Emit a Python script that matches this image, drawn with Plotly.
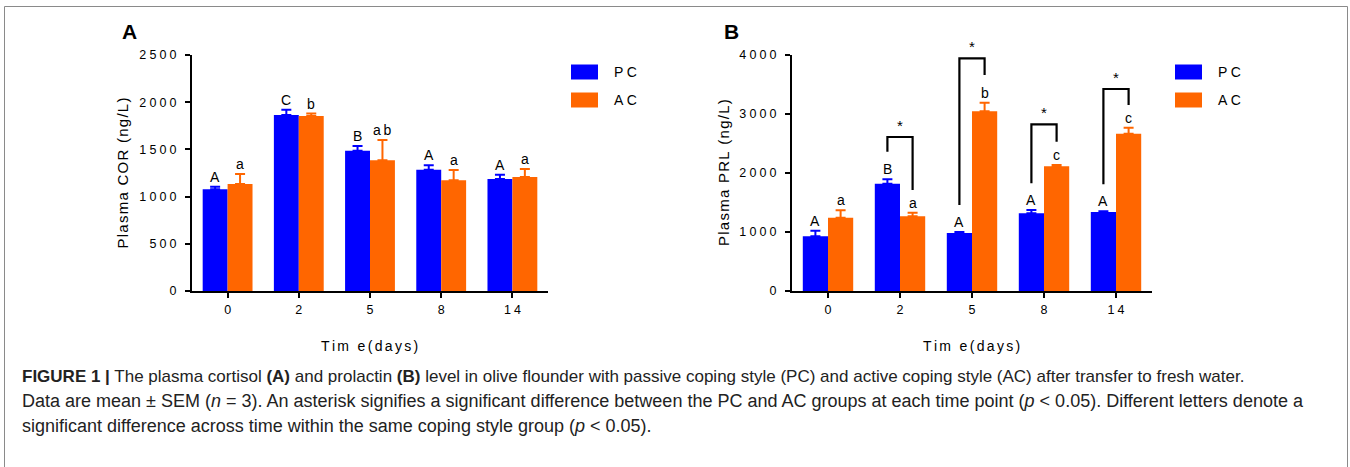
import plotly.graph_objects as go

# ---------------- data ----------------
days = ["0", "2", "5", "8", "14"]
cor_pc = [1077, 1864, 1486, 1285, 1186]
cor_pc_sem = [28, 57, 50, 46, 46]
cor_ac = [1133, 1853, 1384, 1172, 1208]
cor_ac_sem = [106, 26, 215, 110, 84]
prl_pc = [927, 1819, 983, 1316, 1339]
prl_pc_sem = [95, 74, 15, 57, 12]
prl_ac = [1243, 1265, 3045, 2113, 2666]
prl_ac_sem = [124, 63, 147, 22, 102]
cor_pc_letters = ["A", "C", "B", "A", "A"]
cor_ac_letters = ["a", "b", "ab", "a", "a"]
prl_pc_letters = ["A", "B", "A", "A", "A"]
prl_ac_letters = ["a", "a", "b", "c", "c"]
# significance brackets in panel B (category index, top, left foot, right foot)
sig_idx = [1, 2, 3, 4]
sig_top = [2610, 3943, 2825, 3424]
sig_left = [2361, 1458, 1825, 1808]
sig_right = [1712, 3661, 2531, 3153]
cor_ticks = [0, 500, 1000, 1500, 2000, 2500]
prl_ticks = [0, 1000, 2000, 3000, 4000]

BLUE = "#0000FF"
ORANGE = "#FF6600"
W, H = 1350, 467
FONT = "Liberation Sans, Arial, sans-serif"


def sp(s, gap="\u2009"):
    return gap.join(list(s))


def px(x):
    return x / W


def py(y):
    return 1 - y / H


xs = list(range(len(days)))
OFF = 0.175

fig = go.Figure()


def add_panel(pc, pcs, ac, acs, xa, ya):
    fig.add_trace(go.Bar(x=xs, y=pc, marker=dict(color=BLUE, line=dict(width=0)),
                         error_y=dict(type="data", symmetric=False, array=pcs,
                                      arrayminus=[0] * len(pcs), color=BLUE,
                                      thickness=2, width=5),
                         xaxis=xa, yaxis=ya, showlegend=False, name="PC"))
    fig.add_trace(go.Bar(x=xs, y=ac, marker=dict(color=ORANGE, line=dict(width=0)),
                         error_y=dict(type="data", symmetric=False, array=acs,
                                      arrayminus=[0] * len(acs), color=ORANGE,
                                      thickness=2, width=5),
                         xaxis=xa, yaxis=ya, showlegend=False, name="AC"))


add_panel(cor_pc, cor_pc_sem, cor_ac, cor_ac_sem, "x", "y")
add_panel(prl_pc, prl_pc_sem, prl_ac, prl_ac_sem, "x2", "y2")

# brackets
for i, t, l, r in zip(sig_idx, sig_top, sig_left, sig_right):
    fig.add_trace(go.Scatter(x=[i - OFF, i - OFF, i + OFF, i + OFF], y=[l, t, t, r],
                             mode="lines", line=dict(color="black", width=2.2),
                             xaxis="x2", yaxis="y2", showlegend=False, hoverinfo="skip"))

annotations = []


def letters(vals, sems, labs, off, xref, yref):
    for i, (v, s, lab) in enumerate(zip(vals, sems, labs)):
        annotations.append(dict(x=i + off, y=v + s, xref=xref, yref=yref, text=sp(lab),
                                showarrow=False, xanchor="center", yanchor="bottom", yshift=0,
                                font=dict(family=FONT, size=14, color="black")))


letters(cor_pc, cor_pc_sem, cor_pc_letters, -OFF, "x", "y")
letters(cor_ac, cor_ac_sem, cor_ac_letters, OFF, "x", "y")
letters(prl_pc, prl_pc_sem, prl_pc_letters, -OFF, "x2", "y2")
letters(prl_ac, prl_ac_sem, prl_ac_letters, OFF, "x2", "y2")

for i, t in zip(sig_idx, sig_top):
    annotations.append(dict(x=i, y=t, xref="x2", yref="y2", text="*", showarrow=False,
                            xanchor="center", yanchor="bottom", yshift=1,
                            font=dict(family=FONT, size=15, color="black")))


def paper_text(text, x, y, size, xanchor="center", yanchor="middle", angle=0, color="black"):
    annotations.append(dict(x=px(x), y=py(y), xref="paper", yref="paper", text=text,
                            showarrow=False, xanchor=xanchor, yanchor=yanchor,
                            textangle=angle, font=dict(family=FONT, size=size, color=color)))


# panel letters
paper_text("<b>A</b>", 129, 32, 21)
paper_text("<b>B</b>", 731, 32, 21)

# axis titles
paper_text(sp("Plasma COR (ng/L)", "\u200A"), 121.5, 173, 15, angle=-90)
paper_text(sp("Plasma PRL (ng/L)", "\u200A"), 723, 173, 15, angle=-90)
paper_text(sp("Tim e(days)", "\u2006"), 369, 346, 14)
paper_text(sp("Tim e(days)", "\u2006"), 971, 346, 14)

# custom legends
shapes = []
for lx in [571, 1175]:
    for lab, col, ly in [("PC", BLUE, 72), ("AC", ORANGE, 100)]:
        shapes.append(dict(type="rect", xref="paper", yref="paper",
                           x0=px(lx), x1=px(lx + 27), y0=py(ly + 7.5), y1=py(ly - 7.5),
                           fillcolor=col, line=dict(width=0)))
        paper_text(sp(lab, "\u2005"), lx + 41, ly, 14, xanchor="left")

# outer frame
shapes.append(dict(type="rect", xref="paper", yref="paper", x0=px(4.5), x1=px(1347.5),
                   y0=py(480), y1=py(6.5), line=dict(color="#8a8a8a", width=1)))

# caption
cap = [
    "<b>FIGURE 1 |</b> The plasma cortisol <b>(A)</b> and prolactin <b>(B)</b> level in olive flounder "
    "with passive coping style (PC) and active coping style (AC) after transfer to fresh water.",
    "Data are mean ± SEM (<i>n</i> = 3). An asterisk signifies a significant difference between the PC "
    "and AC groups at each time point (<i>p</i> &lt; 0.05). Different letters denote a",
    "significant difference across time within the same coping style group (<i>p</i> &lt; 0.05).",
]
cap_sizes = [17, 18, 18]
for k, (line, fs) in enumerate(zip(cap, cap_sizes)):
    paper_text(line, 20, 376 + 25 * k, fs, xanchor="left", color="#222222")

ydom = [py(291), py(55)]
axis_common = dict(showline=True, linecolor="black", linewidth=2, ticks="outside",
                   tickwidth=2, ticklen=5, tickcolor="black", showgrid=False, zeroline=False,
                   automargin=False, tickfont=dict(family=FONT, size=12.5, color="black"))

fig.update_layout(
    width=W, height=H, margin=dict(l=0, r=0, t=0, b=0, autoexpand=False),
    paper_bgcolor="white", plot_bgcolor="white",
    barmode="group", bargap=0.3, bargroupgap=0,
    showlegend=False,
    xaxis=dict(domain=[px(192), px(548)], range=[-0.5, 4.5], tickvals=xs,
               ticktext=[sp(d, "\u2005") for d in days], anchor="y", ticklabelstandoff=1,
               **axis_common),
    yaxis=dict(domain=ydom, range=[0, 2500], tickvals=cor_ticks,
               ticktext=[sp(str(t), "\u2005") for t in cor_ticks], anchor="x",
               ticklabelstandoff=6, **axis_common),
    xaxis2=dict(domain=[px(792), px(1152)], range=[-0.5, 4.5], tickvals=xs,
                ticktext=[sp(d, "\u2005") for d in days], anchor="y2", ticklabelstandoff=1,
                **axis_common),
    yaxis2=dict(domain=ydom, range=[0, 4000], tickvals=prl_ticks,
                ticktext=[sp(str(t), "\u2005") for t in prl_ticks], anchor="x2",
                ticklabelstandoff=6, **axis_common),
    annotations=annotations, shapes=shapes,
)

fig.write_html("out.html")
